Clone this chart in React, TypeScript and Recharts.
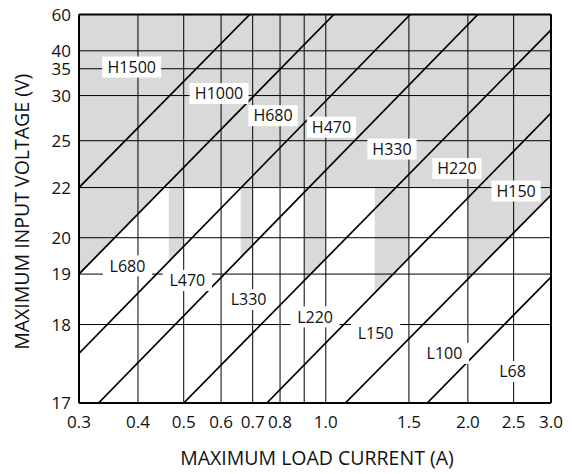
import {
    ComposedChart,
    Area,
    Line,
    XAxis,
    YAxis,
    ReferenceLine,
    ReferenceDot,
} from "recharts";

// axis ticks
const currentTicks = [0.3, 0.4, 0.5, 0.6, 0.7, 0.8, 0.9, 1.0, 1.5, 2.0, 2.5, 3.0];
const unlabeledCurrents = [0.9];
const voltageTicks = [17, 18, 19, 20, 22, 25, 30, 35, 40, 60];

// boundary lines between inductor regions (start / end points, A and V)
const lineStartCurrent = [0.3, 0.3, 0.3, 0.33, 0.5, 0.75, 1.1, 1.64];
const lineStartVoltage = [22, 19, 17.57, 17, 17, 17, 17, 17];
const lineEndCurrent = [0.69, 1.04, 1.51, 2.1, 3.0, 3.0, 3.0, 3.0];
const lineEndVoltage = [60, 60, 60, 60, 49, 27.7, 21.64, 18.93];

// shaded (H) area: above 22 V, plus current bands where it reaches the next line down
const shadeLevel = 22;
const shadeFrom = [0.465, 0.66, 0.9, 1.27, 2.0];
const shadeTo = [0.5, 0.7, 1.0, 1.5, 3.0];

// region labels
const hLabels = ["H1500", "H1000", "H680", "H470", "H330", "H220", "H150"];
const hLabelCurrent = [0.388, 0.594, 0.773, 1.028, 1.381, 1.896, 2.53];
const hLabelVoltage = [35.4, 30.3, 27.4, 26.2, 24.35, 23.04, 21.83];
const lLabels = ["L680", "L470", "L330", "L220", "L150", "L100", "L68"];
const lLabelCurrent = [0.38, 0.509, 0.686, 0.949, 1.275, 1.784, 2.487];
const lLabelVoltage = [19.2, 18.85, 18.45, 18.13, 17.86, 17.57, 17.34];

// input voltage axis is laid out on log((Vin - Vo) / Vin)
const VO = 15.3;
const toAxis = (v: number) => Math.log10((v - VO) / v);
const fromAxis = (g: number) => VO / (1 - Math.pow(10, g));

const yMin = toAxis(17);
const yMax = toAxis(60);

// value on boundary line i (in axis units) at a given current
function lineAt(i: number, current: number) {
    const x0 = Math.log10(lineStartCurrent[i]);
    const x1 = Math.log10(lineEndCurrent[i]);
    const y0 = toAxis(lineStartVoltage[i]);
    const y1 = toAxis(lineEndVoltage[i]);
    return y0 + ((Math.log10(current) - x0) / (x1 - x0)) * (y1 - y0);
}

const lines = lineStartCurrent.map((_, i) => [
    { current: lineStartCurrent[i], v: toAxis(lineStartVoltage[i]) },
    { current: lineEndCurrent[i], v: toAxis(lineEndVoltage[i]) },
]);

function buildShade() {
    const pts: { current: number; g: number }[] = [
        { current: 0.3, g: lineAt(1, 0.3) },
        { current: shadeFrom[0], g: lineAt(1, shadeFrom[0]) },
    ];
    shadeFrom.forEach((from, k) => {
        const to = shadeTo[k];
        pts.push({ current: from, g: lineAt(k + 2, from) });
        pts.push({ current: to, g: lineAt(k + 2, to) });
        if (k < shadeFrom.length - 1) {
            pts.push({ current: to, g: toAxis(shadeLevel) });
            pts.push({ current: shadeFrom[k + 1], g: toAxis(shadeLevel) });
        }
    });
    return pts.map((p) => ({ current: p.current, band: [p.g, yMax] }));
}

const shadeData = buildShade();

const FONT = '"Open Sans", "DejaVu Sans", sans-serif';

function RegionLabel(props: any) {
    const { cx, cy, text } = props;
    const w = text.length * 9.8 + 10;
    const h = 21;
    return (
        <g>
            <rect x={cx - w / 2} y={cy - h / 2} width={w} height={h} fill="#fff" />
            <text
                x={cx}
                y={cy + 5.8}
                textAnchor="middle"
                fontSize={16}
                fontFamily={FONT}
                fill="#111"
            >
                {text}
            </text>
        </g>
    );
}

function YTitle(props: any) {
    const vb = props.viewBox;
    const x = vb.x + 29;
    const y = vb.y + vb.height / 2 + 3;
    return (
        <text
            x={x}
            y={y}
            transform={`rotate(-90 ${x} ${y})`}
            textAnchor="middle"
            fontSize={19.5}
            fontFamily={FONT}
            fill="#111"
        >
            MAXIMUM INPUT VOLTAGE (V)
        </text>
    );
}

function XTitle(props: any) {
    const vb = props.viewBox;
    return (
        <text
            x={vb.x + vb.width / 2 + 2}
            y={vb.y + 62}
            textAnchor="middle"
            fontSize={19.5}
            fontFamily={FONT}
            fill="#111"
        >
            MAXIMUM LOAD CURRENT (A)
        </text>
    );
}

export default function App() {
    const tickStyle = { fontSize: 17, fill: "#111", fontFamily: FONT };

    return (
        <div style={{ position: "absolute", left: 0, top: 0, width: 572, height: 474 }}>
            <ComposedChart
                width={572}
                height={474}
                margin={{ top: 14.5, right: 21, bottom: 0, left: 0 }}
            >
                <XAxis
                    dataKey="current"
                    type="number"
                    scale="log"
                    domain={[0.3, 3]}
                    ticks={currentTicks}
                    interval={0}
                    allowDataOverflow
                    tickFormatter={(c: number) =>
                        unlabeledCurrents.includes(c) ? "" : c.toFixed(1)
                    }
                    tick={tickStyle}
                    tickLine={false}
                    axisLine={false}
                    tickMargin={7}
                    height={71}
                    label={{ content: XTitle }}
                />
                <YAxis
                    type="number"
                    domain={[yMin, yMax]}
                    ticks={voltageTicks.map(toAxis)}
                    interval={0}
                    allowDataOverflow
                    tickFormatter={(g: number) => String(Math.round(fromAxis(g)))}
                    tick={tickStyle}
                    tickLine={false}
                    axisLine={false}
                    width={79}
                    label={{ content: YTitle }}
                />

                <Area
                    data={shadeData}
                    dataKey="band"
                    type="linear"
                    stroke="none"
                    fill="#d9d9d9"
                    fillOpacity={1}
                    isAnimationActive={false}
                    zIndex={1}
                />

                {currentTicks.map((c) => (
                    <ReferenceLine key={`gx${c}`} x={c} stroke="#000" strokeWidth={1} zIndex={2} />
                ))}
                {voltageTicks.map((v) => (
                    <ReferenceLine key={`gy${v}`} y={toAxis(v)} stroke="#000" strokeWidth={1} zIndex={2} />
                ))}

                {/* plot frame */}
                <ReferenceLine x={0.3} stroke="#000" strokeWidth={2} zIndex={2} />
                <ReferenceLine x={3} stroke="#000" strokeWidth={2} zIndex={2} />
                <ReferenceLine y={yMin} stroke="#000" strokeWidth={2} zIndex={2} />
                <ReferenceLine y={yMax} stroke="#000" strokeWidth={2} zIndex={2} />

                {lines.map((d, i) => (
                    <Line
                        key={`line${i}`}
                        data={d}
                        dataKey="v"
                        type="linear"
                        stroke="#000"
                        strokeWidth={1.7}
                        dot={false}
                        activeDot={false}
                        isAnimationActive={false}
                        zIndex={3}
                    />
                ))}

                {hLabels.map((t, i) => (
                    <ReferenceDot
                        key={t}
                        x={hLabelCurrent[i]}
                        y={toAxis(hLabelVoltage[i])}
                        r={0}
                        zIndex={4}
                        shape={(p: any) => <RegionLabel {...p} text={t} />}
                    />
                ))}
                {lLabels.map((t, i) => (
                    <ReferenceDot
                        key={t}
                        x={lLabelCurrent[i]}
                        y={toAxis(lLabelVoltage[i])}
                        r={0}
                        zIndex={4}
                        shape={(p: any) => <RegionLabel {...p} text={t} />}
                    />
                ))}
            </ComposedChart>
        </div>
    );
}
